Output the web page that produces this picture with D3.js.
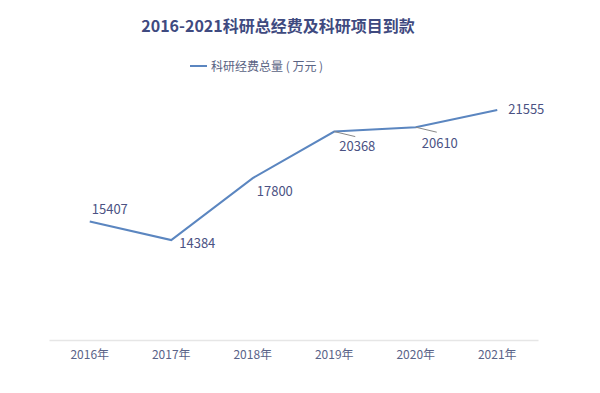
<!DOCTYPE html>
<html><head><meta charset="utf-8">
<script src="https://cdn.jsdelivr.net/npm/d3@7"></script>
<style>
html,body{margin:0;padding:0;background:#fff;}
svg{display:block;font-family:"Noto Sans CJK SC","Noto Sans",sans-serif;}
</style></head>
<body><svg id="c" width="600" height="393"></svg>
<script>
const years = ["2016年","2017年","2018年","2019年","2020年","2021年"];
const values = [15407,14384,17800,20368,20610,21555];
const title = "2016-2021科研总经费及科研项目到款";
const seriesName = "科研经费总量 ( 万元 )";

const svg = d3.select("#c");
const x = d3.scaleBand().domain(years).range([49, 538]);
const y = d3.scaleLinear().domain([8870, 22000]).range([340, 102]);

svg.append("text").attr("x", 278).attr("y", 32).attr("text-anchor","middle")
  .attr("font-size", 16).attr("font-weight","bold").attr("fill","#3f4a80").text(title);

// legend
svg.append("line").attr("x1",190).attr("x2",207).attr("y1",66).attr("y2",66)
  .attr("stroke","#5b86c0").attr("stroke-width",2);
svg.append("text").attr("x",211).attr("y",70.5).attr("font-size",12)
  .attr("fill","#5a6384").text(seriesName);

// axis
const ax = svg.append("g").attr("transform","translate(0,340)")
  .call(d3.axisBottom(x).tickSize(0).tickPadding(10));
ax.select(".domain").attr("stroke","#e6e6e6").attr("stroke-width",1.5);
ax.selectAll("text").attr("font-size",12).attr("fill","#5a6388")
  .attr("font-family",'"Noto Sans CJK SC",sans-serif');

const cx = d => x(d) + x.bandwidth()/2;
const line = d3.line().x((d,i)=>cx(years[i])).y(d=>y(d));
svg.append("path").datum(values).attr("d", line).attr("fill","none")
  .attr("stroke","#5b86c0").attr("stroke-width",2);

const offs = [[2,-12],[8,3],[4,13],[5,15],[6,16],[11,-1]];
const leaders = [false,false,false,true,true,false];
values.forEach((v,i)=>{
  const px = cx(years[i]), py = y(v);
  if (leaders[i]) {
    svg.append("line").attr("x1",px).attr("y1",py).attr("x2",px+21).attr("y2",py+5)
      .attr("stroke","#888").attr("stroke-width",1);
  }
  svg.append("text").attr("x",px+offs[i][0]).attr("y",py+offs[i][1]).attr("dy","0.35em")
    .attr("font-size",13).attr("fill","#4b5283").text(v);
});
</script></body></html>
